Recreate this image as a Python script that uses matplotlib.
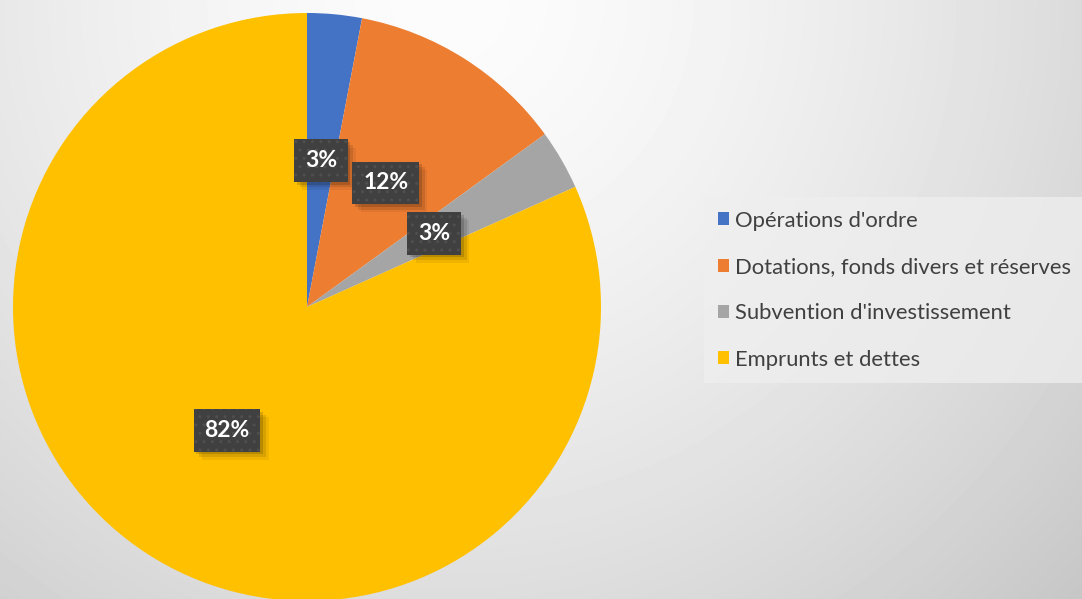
import numpy as np
import matplotlib
matplotlib.use("Agg")
import matplotlib.pyplot as plt
import matplotlib.patheffects as pe

# Slice data (clockwise from 12 o'clock)
categories = ["Opérations d'ordre", "Dotations, fonds divers et réserves",
              "Subvention d'investissement", "Emprunts et dettes"]
shares = [3.0, 12.0, 3.3, 81.7]
labels = ["3%", "12%", "3%", "82%"]
colours = ["#4472c4", "#ed7d31", "#a5a5a5", "#ffc000"]

plt.rcParams['font.family'] = ['Lato', 'DejaVu Sans']


class SoftShadow(pe.AbstractPathEffect):
    """Plain dark offset copy of the patch, without its hatch."""

    def __init__(self, offset, alpha):
        super().__init__(offset)
        self.alpha = alpha

    def draw_path(self, renderer, gc, tpath, affine, rgbFace):
        gc0 = renderer.new_gc()
        gc0.copy_properties(gc)
        gc0.set_hatch(None)
        gc0.set_linewidth(0)
        gc0.set_alpha(self.alpha)
        renderer.draw_path(gc0, tpath, affine + self._offset_transform(renderer), (0, 0, 0))
        gc0.restore()


W, H = 1082, 599
fig = plt.figure(figsize=(W / 100, H / 100), dpi=100)

# soft grey background, lightest near the top middle
bg = fig.add_axes([0, 0, 1, 1])
yy, xx = np.mgrid[0:H, 0:W]
dist = np.sqrt((xx - 450) ** 2 + (yy - 0) ** 2)
shade = (252 - 0.0021 * dist ** 1.5) / 255
bg.imshow(np.clip(shade, 0, 1), cmap="gray", vmin=0, vmax=1,
          extent=[0, W, H, 0], aspect="auto")
bg.axis("off")

# pie axes: centre (307, 307) px from top-left, radius ~294 px
cx, cy, r = 307, 307, 294
ax = fig.add_axes([(cx - r) / W, (H - cy - r) / H, 2 * r / W, 2 * r / H])
wedges, texts = ax.pie(shares, colors=colours, startangle=90, counterclock=False,
                       labels=labels, labeldistance=0.5,
                       wedgeprops=dict(linewidth=0))
ax.set_xlim(-1, 1)
ax.set_ylim(-1, 1)
ax.set_aspect("equal")
ax.axis("off")

for t in texts:
    t.set_color("white")
    t.set_fontsize(16.5)
    t.set_fontweight("bold")
    t.set_ha("center")
    t.set_va("center")
    t.set_bbox(dict(boxstyle="square,pad=0.47", facecolor="#404040",
                    edgecolor="#4f4f4f", linewidth=0, hatch=".."))
    t.get_bbox_patch().set_path_effects([
        SoftShadow((6, -6), 0.06),
        SoftShadow((4, -4), 0.1),
        SoftShadow((2, -2), 0.15),
        pe.Normal()])

leg = fig.legend(wedges, categories, loc="upper left",
                 bbox_to_anchor=(704 / W, 1 - 197 / H),
                 fontsize=15.8, frameon=True, fancybox=False,
                 handlelength=0.52, handleheight=0.52, handletextpad=0.28,
                 labelspacing=1.2, borderpad=0.62, borderaxespad=0)
leg.get_frame().set_facecolor("#efefef")
leg.get_frame().set_alpha(0.75)
leg.get_frame().set_linewidth(0)
for t in leg.get_texts():
    t.set_color("#404040")

fig.savefig("out.png", dpi=100)
